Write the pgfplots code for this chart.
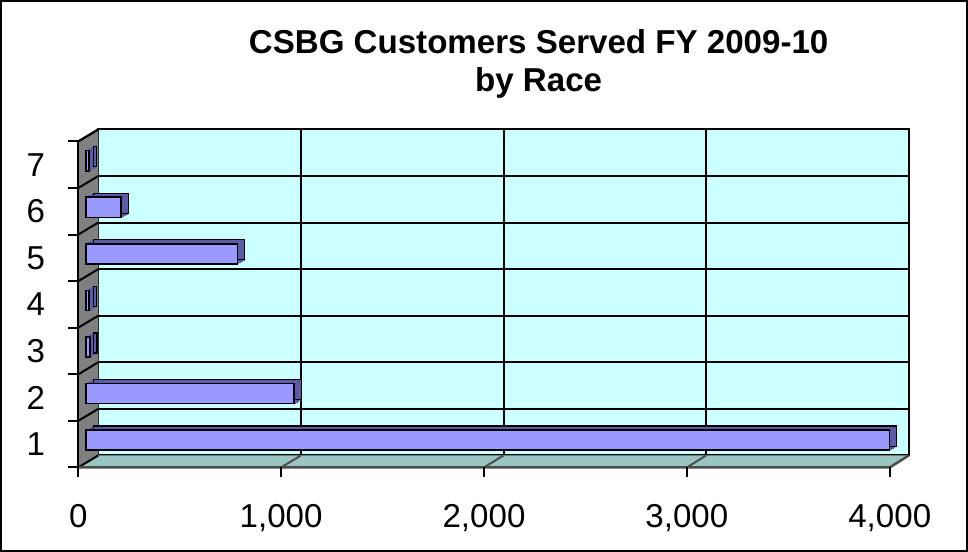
\documentclass[border=0pt]{standalone}
\usepackage{pgfplots}
\pgfplotsset{compat=1.18}
\usepackage{fontspec}
\setmainfont{Liberation Sans}
\definecolor{wall}{HTML}{CCFFFF}
\definecolor{side}{HTML}{808080}
\definecolor{floorc}{HTML}{99C6C2}
\definecolor{barf}{HTML}{9999FF}
\definecolor{bard}{HTML}{5C5CA6}
\pgfplotstableread{
v c
3960 1
1025 2
18 3
14 4
745 5
172 6
14 7
}\racedata
\begin{document}
\begin{tikzpicture}
% outer frame
\draw[black, line width=1pt] (1.5pt,1pt) rectangle (483pt,275pt);
% back wall
\begin{axis}[
  at={(50pt,48.5pt)}, anchor=south west,
  scale only axis, width=404pt, height=162.5pt,
  xmin=0, xmax=4000, ymin=0.5, ymax=7.5,
  xtick={0,1000,...,4000}, ytick={0.5,1.5,...,7.5},
  xticklabels={}, yticklabels={},
  major tick length=0pt,
  xmajorgrids, ymajorgrids,
  major grid style={black, line width=1pt},
  axis line style={black, line width=1pt},
  axis background/.style={fill=wall},
]
\end{axis}
% left wall and floor
\fill[side] (40pt,42.5pt) -- (50pt,48.5pt) -- (50pt,211pt) -- (40pt,205pt) -- cycle;
\fill[floorc] (40pt,42.5pt) -- (444.5pt,42.5pt) -- (454pt,48.5pt) -- (50pt,48.5pt) -- cycle;
\foreach \k in {0,...,7} {
  \draw[black, line width=1pt] (40pt,{42.5pt+23.214pt*\k}) -- (50pt,{48.5pt+23.214pt*\k});
}
\foreach \k in {1,...,4} {
  \draw[black!70, line width=1pt] ({40pt+101.125pt*\k},42.5pt) -- ({50pt+101pt*\k},48.5pt);
}
\draw[black!70, line width=1.2pt] (40pt,42.5pt) -- (444.5pt,42.5pt) -- (454pt,48.5pt);
\draw[black, line width=1pt] (40pt,205pt) -- (50pt,211pt);
% front axis with bars
\begin{axis}[
  at={(40pt,42.5pt)}, anchor=south west,
  scale only axis, width=404.5pt, height=162.5pt,
  xmin=0, xmax=4000, ymin=0.5, ymax=7.5,
  clip=false,
  axis x line*=bottom, axis y line*=left,
  x axis line style={draw=none},
  y axis line style={-, black, line width=1pt},
  xtick={0,1000,...,4000},
  ytick={0.5,1.5,...,7.5}, yticklabels={},
  extra y ticks={1,2,3,4,5,6,7},
  extra y tick labels={1,2,3,4,5,6,7},
  extra y tick style={major tick length=0pt, yticklabel style={xshift=-13pt}},
  tick align=outside, major tick length=5pt,
  tick style={black, line width=1pt},
  scaled x ticks=false,
  /pgf/number format/.cd, assume math mode=true, 1000 sep={,},
  /pgfplots/.cd,
  ticklabel style={font=\fontsize{16.5}{19}\selectfont},
  xticklabel style={yshift=-10pt},
  xbar, bar width=10pt, bar shift=0pt,
]
% extrusion (depth) of the bars
\pgfplotsinvokeforeach{1,...,7}{
  \addplot[fill=bard, draw=bard, line width=0.3pt, bar shift=0pt,
    xshift={4pt+0.5pt*#1}, yshift={2pt+0.2857pt*#1}] table[x=v,y=c] {\racedata};
}
\addplot[fill=bard, draw=black, line width=0.6pt, bar shift=0pt, xshift=7.5pt, yshift=4pt] table[x=v,y=c] {\racedata};
% front faces
\addplot[fill=barf, draw=black, line width=0.8pt, bar shift=0pt, xshift=4pt, yshift=2pt] table[x=v,y=c] {\racedata};
\end{axis}
\node[font=\fontsize{16.5}{19}\selectfont\bfseries, align=center] at (269.5pt,243.5pt)
  {CSBG Customers Served FY 2009-10\\by Race};
\end{tikzpicture}
\end{document}
